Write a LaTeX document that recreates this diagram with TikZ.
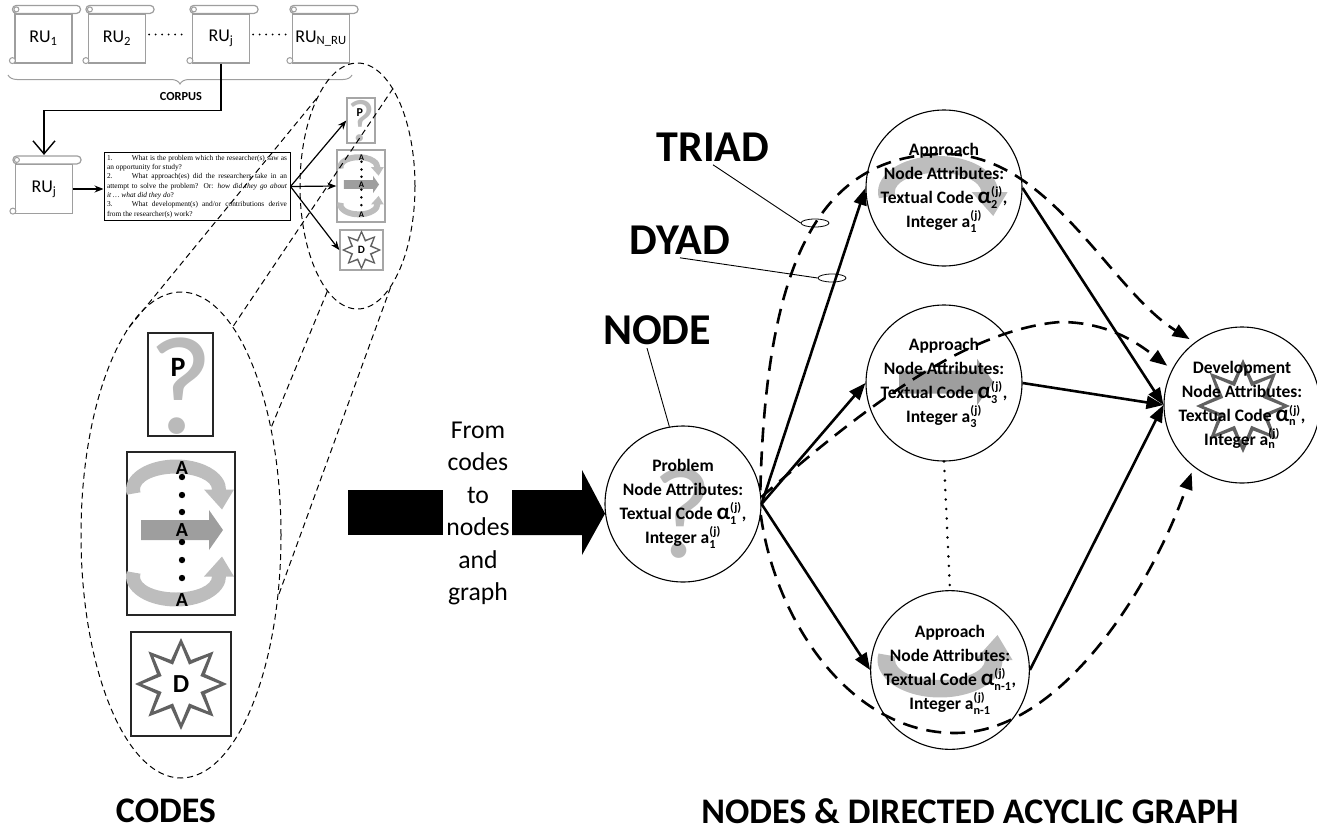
\documentclass[tikz,border=0pt]{standalone}
\usepackage{amsmath}
\usepackage{fontspec}
\setmainfont{Carlito}
\newfontfamily\qserif{Liberation Serif}
\usetikzlibrary{arrows.meta,shapes.geometric,decorations.pathreplacing}
\hyphenpenalty=10000
\exhyphenpenalty=10000

\colorlet{bandgray}{black!26}
\colorlet{bargray}{black!38}
\colorlet{qgray}{black!27}
\colorlet{starline}{black!62}
\colorlet{scrollgray}{black!38}

\newcommand{\acode}[1]{$\text{\fontsize{23}{23}\selectfont α}_{\text{#1}}^{\text{(j)}}$}
\newcommand{\icode}[1]{a$_{\text{#1}}^{\text{(j)}}$}

\tikzset{
  qmark/.pic={\node[text=qgray,font=\fontsize{140}{140}\selectfont] {?};},
  upturn/.pic={\fill[bandgray] (170:50 and 30) arc[start angle=170,end angle=360,x radius=50,y radius=30]
    -- (58,0) -- (46,20) -- (28,0) -- (36,0) arc[start angle=360,end angle=170,x radius=36,y radius=16] -- cycle;},
  straightarr/.pic={\fill[bargray] (-40,-10) -- (28,-10) -- (28,-20) -- (42,0) -- (28,20) -- (28,10) -- (-40,10) -- cycle;},
  star8/.pic={\fill[starline,even odd rule] (0:46) \foreach \k in {0,...,7}{-- (\k*45+22.5:26) -- (\k*45+45:46)} -- cycle
    (0:39) \foreach \k in {0,...,7}{-- (\k*45+22.5:21) -- (\k*45+45:39)} -- cycle;},
  pcode/.pic={\pic at (0.5,1.5) {qmark};
    \node[font=\bfseries\fontsize{28}{28}\selectfont] at (-2.5,-17.5) {P};},
  acode/.pic={\pic at (-5,-44) {upturn};
    \pic at (0,-3.5) {straightarr};
    \pic[yscale=-1] at (-5,43) {upturn};
    \foreach \y in {-56.5,-38.5,-21.5,8.5,26.5,44.5} \fill (1,\y) circle (3.2);
    \foreach \y in {-65.5,-3.5,66.5} \node[font=\bfseries\fontsize{20}{20}\selectfont] at (1,\y) {A};},
  dcode/.pic={\pic {star8};
    \node[font=\bfseries\fontsize{26}{26}\selectfont] {D};}
}

\begin{document}
\begin{tikzpicture}[x=1pt,y=-1pt,
  scrollbox/.style={draw=scrollgray,line width=1.2pt,fill=white,minimum width=57pt,minimum height=49pt,inner sep=0pt,font=\fontsize{18}{18}\selectfont},
  thinarrow/.style={line width=1.2pt,-{Stealth[length=9pt,width=7pt]}},
  codebox/.style={draw=black!85,line width=1.2pt,inner sep=0pt},
  smallbox/.style={draw=black!35,line width=1.4pt,inner sep=0pt},
  cone/.style={ellipse,draw,line width=1pt,dash pattern=on 6pt off 4pt,inner sep=0pt},
  coneline/.style={line width=1pt,dash pattern=on 6pt off 4pt},
  gnode/.style={circle,draw,line width=1.1pt,minimum size=156pt,inner sep=0pt,align=center,font=\bfseries\fontsize{17.5}{24}\selectfont},
  biglabel/.style={font=\bfseries\fontsize{44}{44}\selectfont},
  sectionlabel/.style={font=\bfseries\fontsize{36}{36}\selectfont},
  ringmark/.style={ellipse,draw,line width=0.8pt,minimum width=28pt,minimum height=8pt,inner sep=0pt},
  dagedge/.style={line width=2.6pt,-{Triangle[length=17pt,width=13pt]}},
  triadpath/.style={dagedge,dash pattern=on 15pt off 9pt,shorten >=6pt},
  dotline/.style={line width=2.8pt,line cap=round,dash pattern=on 0pt off 9.5pt}]
\useasboundingbox (0,0) rectangle (1317,830);

% corpus of research units
\node[scrollbox] (ru1) at (43.5,38.5) {RU\textsubscript{1}};
\node[scrollbox] (ru2) at (117,38.5) {RU\textsubscript{2}};
\node[scrollbox] (ruj) at (221,38.5) {RU\textsubscript{j}};
\node[scrollbox] (run) at (321,38.5) {RU\textsubscript{N\_RU}};
\node[scrollbox] (rujb) at (44,189) {RU\textsubscript{j}};
\foreach \s in {ru1,ru2,ruj,run,rujb}{
  \draw[scrollgray,line width=1.2pt,fill=white,rounded corners=4pt]
    ([xshift=-2pt]\s.north west) rectangle ([xshift=8pt,yshift=8pt]\s.north east);
  \draw[scrollgray,line width=1pt] ([xshift=2pt,yshift=4pt]\s.north west) circle (2.5pt);
  \draw[scrollgray,line width=1pt,fill=white] ([xshift=-2pt,yshift=3pt]\s.south west) circle (3pt);
}
\draw[dotline,line width=2.2pt,dash pattern=on 0pt off 6.5pt] ([xshift=3pt,yshift=4pt]ru2.east) -- ([xshift=-5pt,yshift=4pt]ruj.west);
\draw[dotline,line width=2.2pt,dash pattern=on 0pt off 6.5pt] ([xshift=3pt,yshift=4pt]ruj.east) -- ([xshift=-5pt,yshift=4pt]run.west);
\draw[scrollgray,line width=1pt,decorate,decoration={brace,amplitude=9pt,mirror}] (8,75) -- (352,75);
\node[font=\bfseries\fontsize{12.3}{12}\selectfont] (corpus) at (181,97) {CORPUS};
\draw[line width=1.4pt,-{Straight Barb[length=13pt,width=22pt]}] (ruj.south) -- ++(0,47) -| ([yshift=9pt]rujb.north);

% questions and codes
\node[draw,line width=1pt,inner sep=3pt,text width=180pt,align=justify,font=\qserif\fontsize{7.4}{9.3}\selectfont] (quest) at (197,186.5)
  {1.\hspace{2.6em}What is the problem which the researcher(s) saw as an opportunity for study?\\
   2.\hspace{2.6em}What approach(es) did the researchers take in an attempt to solve the problem? Or: \textit{how did they go about it \dots~what did they do}?\\
   3.\hspace{2.6em}What development(s) and/or contributions derive from the researcher(s) work?};
\draw[thinarrow] (rujb.east) -- (quest.west |- rujb.east);
\node[smallbox,minimum width=28pt,minimum height=45pt] (psmall) at (361,120.5) {};
\node[smallbox,minimum width=48pt,minimum height=72pt] (asmall) at (361,186) {};
\node[smallbox,minimum width=43pt,minimum height=40pt] (dsmall) at (361.5,250) {};
\pic[scale=0.43,transform shape] at (psmall) {pcode};
\pic[scale=0.43,transform shape] at (asmall) {acode};
\pic[scale=0.43,transform shape] at (dsmall) {dcode};
\draw[thinarrow] (quest.east) -- (psmall.west);
\draw[thinarrow] (quest.east) -- (asmall.west);
\draw[thinarrow] (quest.east) -- (dsmall.west);

% magnified codes
\node[cone,minimum width=115pt,minimum height=246pt] (smallcone) at (357.5,186) {};
\node[cone,minimum width=200pt,minimum height=486pt] (bigcone) at (181,535) {};
\draw[coneline] (smallcone.115) -- (bigcone.105) (smallcone.70) -- (bigcone.76)
  (smallcone.-106) -- (bigcone.50) (smallcone.-72) -- (bigcone.-32);
\node[codebox,minimum width=65pt,minimum height=103pt] (pbig) at (180.5,384.5) {};
\node[codebox,minimum width=108pt,minimum height=163pt] (abig) at (181,533.5) {};
\node[codebox,minimum width=100pt,minimum height=104pt] (dbig) at (181,684) {};
\pic at (pbig) {pcode};
\pic at (abig) {acode};
\pic at (dbig) {dcode};

% nodes of the graph
\pic[scale=0.93,transform shape] at (683,513) {qmark};
\pic[scale=1.2] at (938,192) {upturn};
\pic[scale=1.15] at (945,382) {straightarr};
\pic[scale=1.25,yscale=-1] at (940,660) {upturn};
\pic[scale=1.02] at (1243,406) {star8};
\node[gnode] (prob) at (683,504) {Problem\\Node Attributes:\\Textual Code \acode{1},\\Integer \icode{1}};
\node[gnode] (a1) at (944,188) {Approach\\Node Attributes:\\Textual Code \acode{2},\\Integer \icode{1}};
\node[gnode] (a2) at (944,383) {Approach\\Node Attributes:\\Textual Code \acode{3},\\Integer \icode{3}};
\node[gnode] (a3) at (950,670) {Approach\\Node Attributes:\\Textual Code \acode{n-1},\\Integer \icode{n-1}};
\node[gnode] (dev) at (1242,405) {Development\\Node Attributes:\\Textual Code \acode{n},\\Integer \icode{n}};

% from codes to nodes
\node[font=\fontsize{25.7}{32.5}\selectfont,align=center] (conv) at (478,513.5) {From\\codes\\to\\nodes\\and\\graph};
\fill (348,490) rectangle (443,535);
\fill (512,490) -- (582,490) -- (582,470) -- (prob.187) -- (582,555) -- (582,535) -- (512,535) -- cycle;

% labels
\node[biglabel] (triad) at (713,147) {TRIAD};
\node[biglabel] (dyad) at (680,240) {DYAD};
\node[biglabel] (nodelab) at (657,330) {NODE};
\node[ringmark] (triadmark) at (815,223) {};
\node[ringmark] (dyadmark) at (832,278) {};
\draw[line width=0.9pt] (triad.south) -- (triadmark.west);
\draw[line width=0.9pt] (dyad.south) -- (dyadmark.west);
\draw[line width=0.9pt] ([xshift=-10pt]nodelab.south) -- (prob.100);

% directed acyclic graph
\draw[dagedge] (prob.east) -- (a1.west);
\draw[dagedge] (prob.east) -- (a2.west);
\draw[dagedge] (prob.east) -- (a3.west);
\draw[dagedge] (a1.east) -- (dev.west);
\draw[dagedge] (a2.east) -- (dev.west);
\draw[dagedge] (a3.east) -- (dev.west);
\draw[dotline] (a2.south) -- (a3.north);
\coordinate (t1top) at (945,154);
\coordinate (t2top) at (1060,322);
\coordinate (t3bot) at (955,733);
\draw[triadpath] (prob.10) .. controls (766,260) and (820,154) .. (t1top) .. controls (1050,154) and (1110,290) .. (dev.127);
\draw[triadpath] (prob.5) .. controls (850,420) and (960,330) .. (t2top) .. controls (1110,322) and (1140,345) .. (dev.153);
\draw[triadpath] (prob.-8) .. controls (775,620) and (850,733) .. (t3bot) .. controls (1060,733) and (1150,590) .. (dev.232);

\node[sectionlabel] (codeslab) at (166,811) {CODES};
\node[sectionlabel] (graphlab) at (970,811) {NODES \& DIRECTED ACYCLIC GRAPH};
\end{tikzpicture}
\end{document}
